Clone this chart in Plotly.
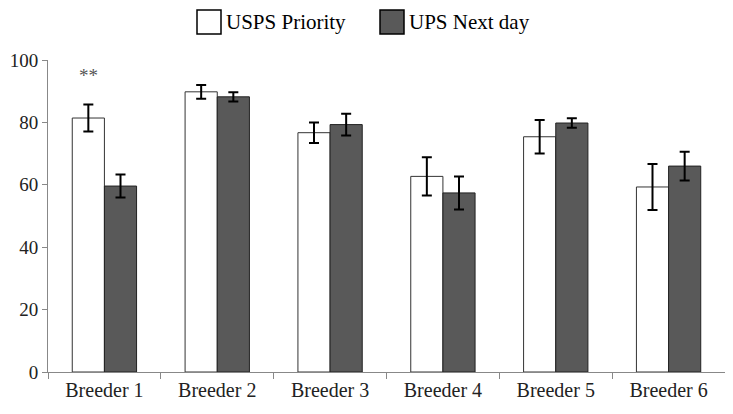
import plotly.graph_objects as go

# data
breeders = ['Breeder 1', 'Breeder 2', 'Breeder 3', 'Breeder 4', 'Breeder 5', 'Breeder 6']
usps_priority = [81.4, 89.8, 76.7, 62.7, 75.4, 59.3]
usps_err = [4.3, 2.2, 3.3, 6.1, 5.4, 7.4]
ups_next_day = [59.6, 88.2, 79.3, 57.4, 79.8, 66.0]
ups_err = [3.7, 1.5, 3.5, 5.3, 1.5, 4.6]
y_ticks = [0, 20, 40, 60, 80, 100]

FONT = "Liberation Serif, Times New Roman, serif"
DARK = "#595959"

# the page body adds an 8px offset, so margins are shifted back by that
OFF = 8
W, H = 733, 414
ML, MR, MT, MB = 48 - OFF, 8 + OFF, 60 - OFF, 42 + OFF
pw = W - ML - MR
ph = H - MT - MB


def px_x(p):
    return (p - OFF - ML) / pw


def px_y(p):
    return (H - MB - (p - OFF)) / ph


fig = go.Figure()

fig.add_trace(go.Bar(
    x=breeders, y=usps_priority, name='USPS Priority',
    marker=dict(color='white', line=dict(color='#333333', width=1)),
    error_y=dict(type='data', array=usps_err, color='black', thickness=2, width=5),
    showlegend=False,
))
fig.add_trace(go.Bar(
    x=breeders, y=ups_next_day, name='UPS Next day',
    marker=dict(color=DARK, line=dict(color='#222222', width=1)),
    error_y=dict(type='data', array=ups_err, color='black', thickness=2, width=5),
    showlegend=False,
))

# significance marker over Breeder 1
fig.add_annotation(x=breeders[0], y=95, text='**', showarrow=False, xshift=-16,
                   font=dict(family=FONT, size=19, color='#555555'))

# legend drawn as boxes + text
legend_items = [('USPS Priority', 'white', 197), ('UPS Next day', DARK, 380)]
for label, col, x0 in legend_items:
    fig.add_shape(type='rect', xref='paper', yref='paper',
                  x0=px_x(x0), x1=px_x(x0 + 24), y0=px_y(34), y1=px_y(10),
                  fillcolor=col, line=dict(color='black', width=1.5))
    fig.add_annotation(xref='paper', yref='paper', x=px_x(x0 + 27), y=px_y(22),
                       xanchor='left', yanchor='middle', text=label, showarrow=False,
                       font=dict(family=FONT, size=21, color='black'))

fig.update_layout(
    width=W, height=H,
    margin=dict(l=ML, r=MR, t=MT, b=MB),
    barmode='group', bargap=0.43, bargroupgap=0,
    plot_bgcolor='white', paper_bgcolor='white',
    font=dict(family=FONT, size=20, color='#222222'),
)
fig.update_xaxes(showline=True, linecolor='#888888', linewidth=1, automargin=False,
                 ticks='outside', tickson='boundaries', ticklen=6, tickcolor='#888888',
                 showgrid=False, tickfont=dict(family=FONT, size=20))
fig.update_yaxes(range=[0, 100], tickvals=y_ticks, showline=True, linecolor='#888888',
                 linewidth=1, ticks='outside', ticklen=5, tickcolor='#888888', automargin=False,
                 showgrid=False, zeroline=False, tickfont=dict(family=FONT, size=19))

fig.write_html("out.html")
